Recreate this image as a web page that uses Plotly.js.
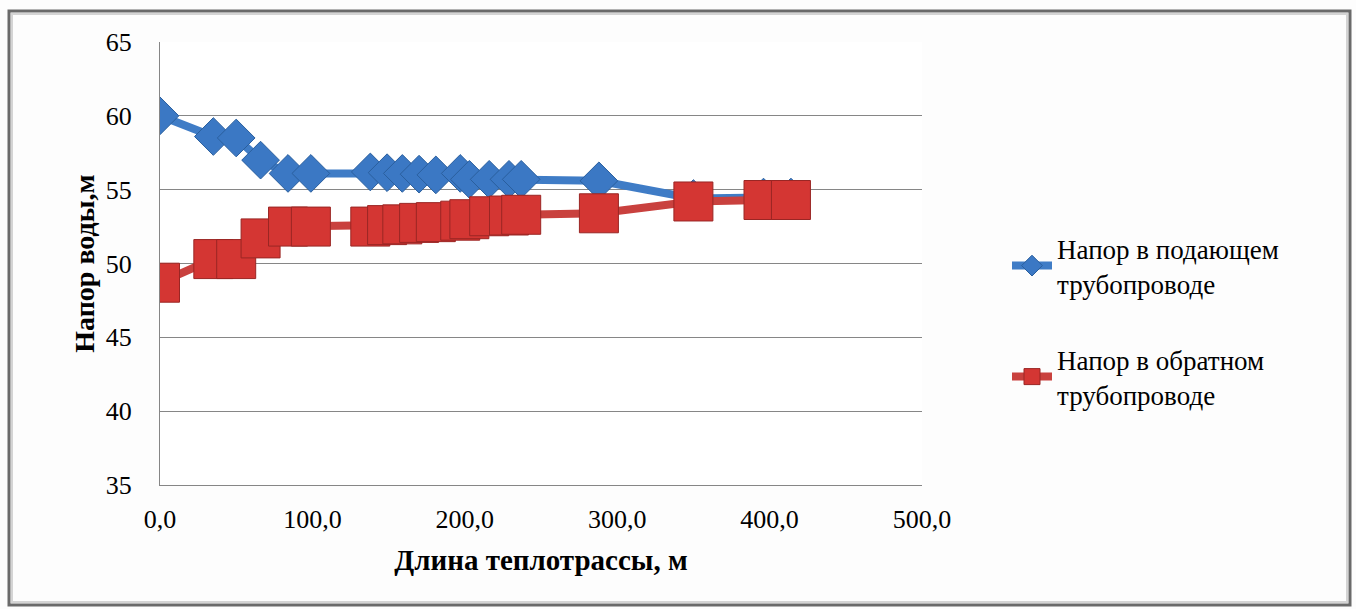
<!DOCTYPE html>
<html>
<head>
<meta charset="utf-8">
<script src="https://cdn.plot.ly/plotly-3.0.1.min.js"></script>
<style>
  html, body { margin: 0; padding: 0; background: #ffffff; }
  #chart { width: 1356px; height: 609px; }
</style>
</head>
<body>
<div id="chart"></div>
<script>
// Length along the heating main, m
const lengthM = [0, 35, 50, 66, 84, 99, 138, 149, 159, 170, 181, 197, 203, 216, 229, 237, 288, 350, 396, 414];
// Head in the supply pipeline, m
const supplyHead = [60.0, 58.6, 58.5, 57.0, 56.1, 56.1, 56.2, 56.15, 56.1, 56.05, 56.0, 56.1, 55.7, 55.7, 55.7, 55.7, 55.6, 54.4, 54.5, 54.5];
// Head in the return pipeline, m
const returnHead = [48.7, 50.3, 50.3, 51.7, 52.5, 52.5, 52.5, 52.6, 52.65, 52.75, 52.8, 52.9, 53.0, 53.2, 53.25, 53.3, 53.4, 54.2, 54.3, 54.3];

const seriesNames = ['Напор в подающем<br>трубопроводе', 'Напор в обратном<br>трубопроводе'];
const xTitle = 'Длина теплотрассы, м';
const yTitle = 'Напор воды,м';

const serif = '"Liberation Serif", "Times New Roman", Tinos, "DejaVu Serif", serif';

// plot area in pixels: x 160..922, y 42..485
const W = 1356, H = 609;
const L = 160, R = 922, T = 42, B = 485;
const px = v => (v - L) / (R - L);
const py = v => (B - v) / (B - T);

const traces = [
  {
    x: lengthM, y: supplyHead, name: seriesNames[0],
    type: 'scatter', mode: 'lines+markers',
    line: { color: '#3f7cc6', width: 8 },
    marker: { symbol: 'diamond', size: 29, color: '#3b78c4',
              line: { color: '#2a5f9e', width: 1 } },
    legend: 'legend'
  },
  {
    x: lengthM, y: returnHead, name: seriesNames[1],
    type: 'scatter', mode: 'lines+markers',
    line: { color: '#c9413e', width: 8 },
    marker: { symbol: 'square', size: 39, color: '#d43633',
              line: { color: '#9a2624', width: 1 } },
    legend: 'legend2'
  }
];

const layout = {
  width: W, height: H,
  margin: { l: L, r: W - R, t: T, b: H - B },
  paper_bgcolor: '#fdfdfd',
  plot_bgcolor: '#ffffff',
  separators: ', ',
  font: { family: serif, size: 26, color: '#000000' },
  xaxis: {
    range: [0, 500], dtick: 100, tick0: 0, tickformat: '.1f',
    showgrid: false, zeroline: false,
    showline: true, linecolor: '#868686', linewidth: 1,
    ticks: '', ticklabelstandoff: 11,
    tickfont: { family: serif, size: 26 },
    title: { text: xTitle, font: { family: serif, size: 29, weight: 'bold' }, standoff: 16 }
  },
  yaxis: {
    range: [35, 65], dtick: 5, tick0: 35,
    showgrid: true, gridcolor: '#868686', gridwidth: 1,
    zeroline: false,
    showline: true, linecolor: '#868686', linewidth: 1,
    ticks: '', ticklabelstandoff: 22,
    tickfont: { family: serif, size: 26 },
    title: { text: yTitle, font: { family: serif, size: 28, weight: 'bold' }, standoff: 2 }
  },
  legend: {
    x: px(1007), y: py(224), xanchor: 'left', yanchor: 'top',
    bgcolor: 'rgba(0,0,0,0)', font: { family: serif, size: 27 },
    itemwidth: 40
  },
  legend2: {
    x: px(1007), y: py(335), xanchor: 'left', yanchor: 'top',
    bgcolor: 'rgba(0,0,0,0)', font: { family: serif, size: 27 },
    itemwidth: 40
  },
  shapes: [
    // chart frame
    { type: 'rect', xref: 'paper', yref: 'paper',
      x0: px(9), x1: px(1350), y0: py(605), y1: py(11),
      line: { color: '#6a6a6a', width: 3 }, layer: 'below' },
    { type: 'rect', xref: 'paper', yref: 'paper',
      x0: px(12), x1: px(1347), y0: py(602), y1: py(14),
      line: { color: '#d4d4d4', width: 2 }, layer: 'below' }
  ],
  showlegend: true
};

Plotly.newPlot('chart', traces, layout, { displayModeBar: false, staticPlot: true });
</script>
</body>
</html>
